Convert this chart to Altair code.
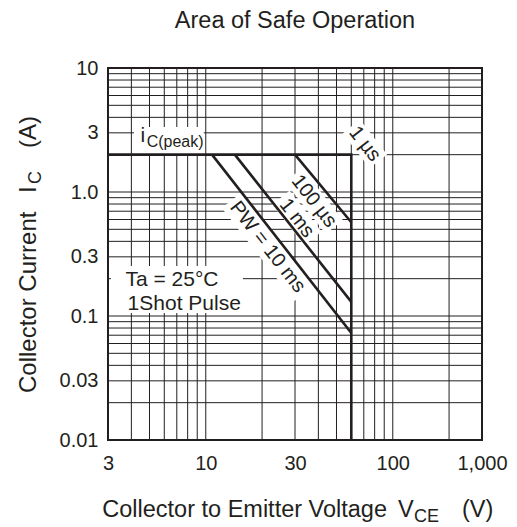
import altair as alt
import pandas as pd

FONT = "Liberation Sans"
INK = "#231f20"

# ---- axis / grid values ----
x_grid = [3, 4, 5, 6, 7, 8, 9, 10, 20, 30, 40, 50, 60, 70, 80, 90, 100, 200, 300]
y_grid = [0.01, 0.02, 0.03, 0.04, 0.05, 0.06, 0.07, 0.08, 0.09,
          0.1, 0.2, 0.3, 0.4, 0.5, 0.6, 0.7, 0.8, 0.9,
          1, 2, 3, 4, 5, 6, 7, 8, 9, 10]
x_ticks = [3, 10, 30, 100, 300]
x_tick_labels = ["3", "10", "30", "100", "1,000"]
y_ticks = [0.01, 0.03, 0.1, 0.3, 1, 3, 10]
y_tick_labels = ["0.01", "0.03", "0.1", "0.3", "1.0", "3", "10"]

# ---- SOA envelope (1 us): i_C(peak) then V_CE limit ----
env_v = [3, 60, 60]
env_i = [2, 2, 0.01]

# ---- pulse-width limit lines ----
pw_names = ["10 ms", "1 ms", "100 us"]
pw_v_start = [10.8, 14.3, 30]
pw_i_start = [2, 2, 2]
pw_v_end = [60, 60, 60]
pw_i_end = [0.073, 0.13, 0.57]

# ---- rotated labels (centre in data coords) ----
rot_labels = ["PW = 10 ms", "1 ms", "100 µs", "1 µs"]
rot_v = [21.4, 30.7, 37.9, 70.9]
rot_i = [0.36, 0.616, 0.846, 2.44]
rot_box_len = [118, 52, 66, 44]
rot_box_hgt = [24, 22, 22, 22]

# ---- horizontal annotations ----
ann_text = ["i", "C(peak)", "Ta = 25°C", "1Shot Pulse"]
ann_v = [4.48, 4.83, 3.72, 3.82]
ann_i = [2.53, 2.306, 0.1746, 0.1117]
ann_size = [21, 16, 21, 21]


def label_expr(vals, labs):
    expr = "''"
    for v, l in reversed(list(zip(vals, labs))):
        expr = f"abs(datum.value - {v}) < {v * 1e-6} ? '{l}' : {expr}"
    return expr


xs = alt.Scale(type="log", domain=[3, 300], nice=False)
ys = alt.Scale(type="log", domain=[0.01, 10], nice=False)
x_axis = alt.Axis(values=x_ticks, labelExpr=label_expr(x_ticks, x_tick_labels), title=None,
                  ticks=False, tickSize=0, domain=False, grid=False, labelPadding=13,
                  labelFontSize=20, labelFont=FONT, labelColor=INK, labelFlush=False,
                  labelOverlap=False)
y_axis = alt.Axis(values=y_ticks, labelExpr=label_expr(y_ticks, y_tick_labels), title=None,
                  ticks=False, tickSize=0, domain=False, grid=False, labelPadding=10,
                  labelFontSize=20, labelFont=FONT, labelColor=INK, labelFlush=False,
                  labelOverlap=False)


def X(field, **kw):
    return alt.X(field, type="quantitative", scale=xs, axis=x_axis, **kw)


def Y(field, **kw):
    return alt.Y(field, type="quantitative", scale=ys, axis=y_axis, **kw)


layers = []

# grid
layers.append(alt.Chart(pd.DataFrame({"v": x_grid})).mark_rule(color=INK, strokeWidth=1).encode(x=X("v")))
layers.append(alt.Chart(pd.DataFrame({"i": y_grid})).mark_rule(color=INK, strokeWidth=1).encode(y=Y("i")))

# white boxes behind horizontal annotations
boxes = pd.DataFrame({"v1": [4.13, 3.11], "v2": [9.76, 15.8], "i1": [2.0, 0.1057], "i2": [3.35, 0.253]})
layers.append(alt.Chart(boxes).mark_rect(color="white").encode(x=X("v1"), x2="v2", y=Y("i1"), y2="i2"))

# rotated white boxes behind rotated labels
for lab, v, i, L, H in zip(rot_labels, rot_v, rot_i, rot_box_len, rot_box_hgt):
    h = H / L
    path = f"M -1 {-h:.4f} L 1 {-h:.4f} L 1 {h:.4f} L -1 {h:.4f} Z"
    layers.append(
        alt.Chart(pd.DataFrame({"v": [v], "i": [i]}))
        .mark_point(shape=path, size=L * L, angle=52, filled=True, color="white", opacity=1, strokeWidth=0)
        .encode(x=X("v"), y=Y("i"))
    )

# curves
rows = []
for k, (v, i) in enumerate(zip(env_v, env_i)):
    rows.append({"s": "envelope", "o": k, "v": v, "i": i})
for name, v0, i0, v1, i1 in zip(pw_names, pw_v_start, pw_i_start, pw_v_end, pw_i_end):
    rows.append({"s": name, "o": 0, "v": v0, "i": i0})
    rows.append({"s": name, "o": 1, "v": v1, "i": i1})
curves = pd.DataFrame(rows)
layers.append(
    alt.Chart(curves).mark_line(color=INK, strokeWidth=2.6, strokeJoin="miter")
    .encode(x=X("v"), y=Y("i"), detail="s:N", order="o:Q")
)

# rotated labels
layers.append(
    alt.Chart(pd.DataFrame({"v": rot_v, "i": rot_i, "t": rot_labels}))
    .mark_text(angle=52, align="center", baseline="middle", font=FONT, fontSize=20, color=INK)
    .encode(x=X("v"), y=Y("i"), text="t:N")
)

# horizontal annotations
ann = pd.DataFrame({"v": ann_v, "i": ann_i, "t": ann_text, "fs": ann_size})
layers.append(
    alt.Chart(ann).mark_text(align="left", baseline="alphabetic", font=FONT, color=INK)
    .encode(x=X("v"), y=Y("i"), text="t:N", size=alt.Size("fs:Q", scale=None, legend=None))
)


# titles (pixel layout, outside plot area)
def txt(t, x, y, fs, align="left", angle=0):
    return alt.Chart(pd.DataFrame({"t": [t]})).mark_text(
        align=align, baseline="alphabetic", font=FONT, fontSize=fs, color=INK, angle=angle
    ).encode(x=alt.value(x), y=alt.value(y), text="t:N")


layers.append(txt("Area of Safe Operation", 187, -40, 23.5, align="center"))
layers.append(txt("Collector to Emitter Voltage", 279, 449, 23.5, align="right"))
layers.append(txt("V", 290, 449, 23.5))
layers.append(txt("CE", 306, 454, 18))
layers.append(txt("(V)", 354, 449, 23.5))
layers.append(txt("Collector Current", -72, 325, 24, angle=270))
layers.append(txt("I", -72, 125, 24, angle=270))
layers.append(txt("C", -67, 116, 18, angle=270))
layers.append(txt("(A)", -72, 80, 24, angle=270))

chart = (
    alt.layer(*layers)
    .properties(width=374, height=372,
                padding={"left": 100, "top": 60, "right": 27, "bottom": 87},
                autosize=alt.AutoSizeParams(type="none"))
    .configure_view(stroke=INK, strokeWidth=2)
)

chart.save("out.html", embed_options={"renderer": "svg", "actions": False})
